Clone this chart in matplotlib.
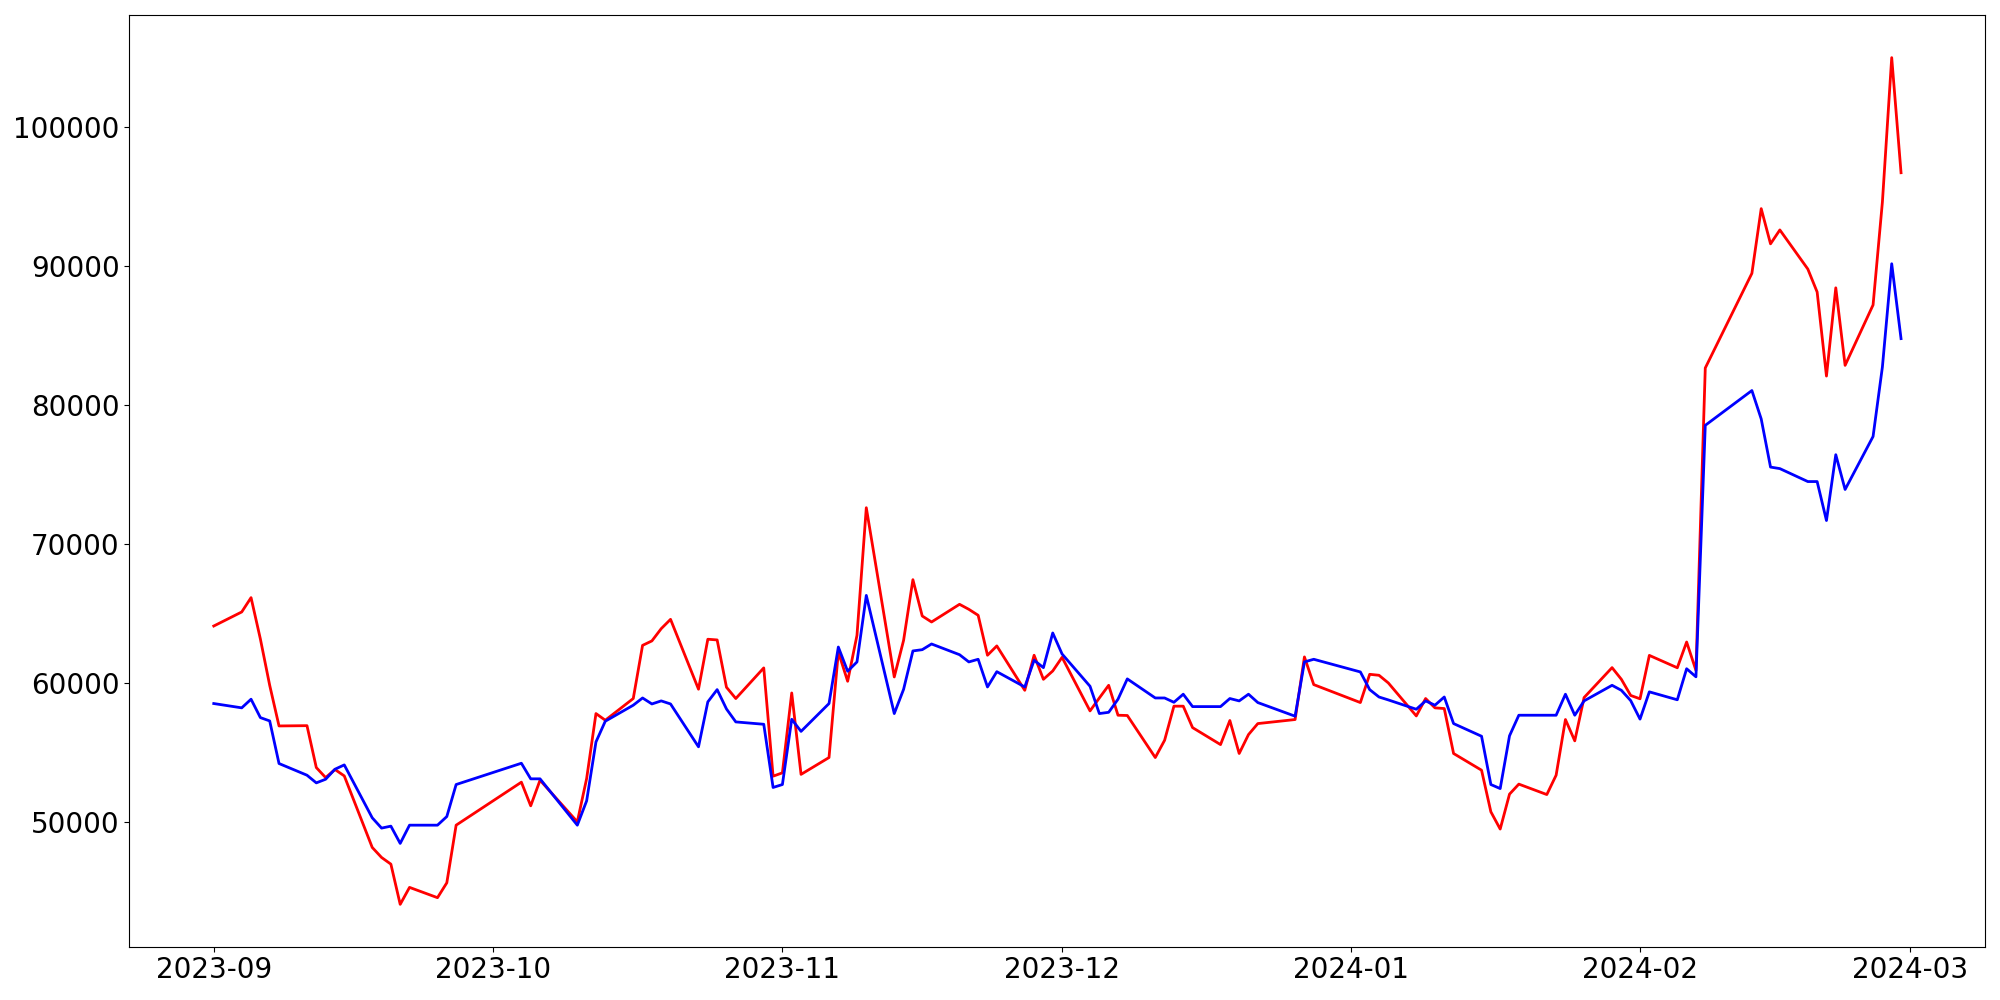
import matplotlib
matplotlib.use("Agg")
import matplotlib.pyplot as plt
import matplotlib.dates as mdates
import pandas as pd

dates = [
    "2023-09-01", "2023-09-04", "2023-09-05", "2023-09-06", "2023-09-07", "2023-09-08",
    "2023-09-11", "2023-09-12", "2023-09-13", "2023-09-14", "2023-09-15",
    "2023-09-18", "2023-09-19", "2023-09-20", "2023-09-21", "2023-09-22",
    "2023-09-25", "2023-09-26", "2023-09-27",
    "2023-10-04", "2023-10-05", "2023-10-06",
    "2023-10-10", "2023-10-11", "2023-10-12", "2023-10-13",
    "2023-10-16", "2023-10-17", "2023-10-18", "2023-10-19", "2023-10-20",
    "2023-10-23", "2023-10-24", "2023-10-25", "2023-10-26", "2023-10-27",
    "2023-10-30", "2023-10-31", "2023-11-01", "2023-11-02", "2023-11-03",
    "2023-11-06", "2023-11-07", "2023-11-08", "2023-11-09", "2023-11-10",
    "2023-11-13", "2023-11-14", "2023-11-15", "2023-11-16", "2023-11-17",
    "2023-11-20", "2023-11-21", "2023-11-22", "2023-11-23", "2023-11-24",
    "2023-11-27", "2023-11-28", "2023-11-29", "2023-11-30", "2023-12-01",
    "2023-12-04", "2023-12-05", "2023-12-06", "2023-12-07", "2023-12-08",
    "2023-12-11", "2023-12-12", "2023-12-13", "2023-12-14", "2023-12-15",
    "2023-12-18", "2023-12-19", "2023-12-20", "2023-12-21", "2023-12-22",
    "2023-12-26", "2023-12-27", "2023-12-28",
    "2024-01-02", "2024-01-03", "2024-01-04", "2024-01-05",
    "2024-01-08", "2024-01-09", "2024-01-10", "2024-01-11", "2024-01-12",
    "2024-01-15", "2024-01-16", "2024-01-17", "2024-01-18", "2024-01-19",
    "2024-01-22", "2024-01-23", "2024-01-24", "2024-01-25", "2024-01-26",
    "2024-01-29", "2024-01-30", "2024-01-31", "2024-02-01", "2024-02-02",
    "2024-02-05", "2024-02-06", "2024-02-07", "2024-02-08",
    "2024-02-13", "2024-02-14", "2024-02-15", "2024-02-16",
    "2024-02-19", "2024-02-20", "2024-02-21", "2024-02-22", "2024-02-23",
    "2024-02-26", "2024-02-27", "2024-02-28", "2024-02-29",
]

red_values = [
    64110, 65120, 66150, 63180, 59850, 56930,
    56950, 53940, 53220, 53800, 53340,
    48200, 47480, 47000, 44110, 45330,
    44590, 45660, 49800,
    52890, 51190, 53030,
    50040, 53150, 57820, 57340,
    58900, 62720, 63040, 63920, 64590,
    59570, 63160, 63110, 59710, 58900,
    61100, 53320, 53560, 59300, 53450,
    54660, 62240, 60140, 63440, 72610,
    60450, 63080, 67440, 64830, 64400,
    65670, 65310, 64880, 62010, 62680,
    59490, 62010, 60280, 60880, 61860,
    58010, 58940, 59850, 57700, 57680,
    54660, 55900, 58350, 58350, 56810,
    55590, 57320, 54950, 56310, 57100,
    57390, 61890, 59900,
    58610, 60640, 60570, 60020,
    57650, 58900, 58230, 58180, 54950,
    53750, 50760, 49520, 52030, 52750,
    52000, 53390, 57390, 55860, 58970,
    61120, 60280, 59120, 58880, 62000,
    61110, 62960, 60920, 82650,
    89450, 94100, 91570, 92570,
    89760, 88110, 82070, 88410, 82840,
    87180, 94570, 104950, 96680,
]

blue_values = [
    58540, 58230, 58850, 57530, 57290, 54230,
    53390, 52840, 53100, 53820, 54130,
    50330, 49590, 49730, 48490, 49800,
    49800, 50420, 52720,
    54250, 53130, 53130,
    49800, 51550, 55780, 57270,
    58420, 58940, 58510, 58730, 58510,
    55430, 58660, 59540, 58150, 57220,
    57050, 52510, 52720, 57410, 56540,
    58540, 62600, 60860, 61530, 66310,
    57820, 59560, 62320, 62410, 62820,
    62050, 61530, 61720, 59730, 60830,
    59730, 61650, 61120, 63610, 62100,
    59780, 57820, 57910, 58850, 60310,
    58940, 58940, 58630, 59210, 58320,
    58320, 58900, 58730, 59210, 58610,
    57630, 61530, 61720,
    60810, 59540, 59010, 58800,
    58130, 58730, 58420, 59010, 57100,
    56190, 52720, 52430, 56220, 57700,
    57700, 57700, 59210, 57700, 58730,
    59850, 59490, 58750, 57420, 59380,
    58810, 61040, 60460, 78530,
    81030, 78990, 75530, 75420,
    74490, 74490, 71690, 76420, 73920,
    77730, 82720, 90140, 84760,
]

x = pd.to_datetime(dates)

fig = plt.figure(figsize=(20, 10), dpi=100)
ax = fig.add_axes([0.0647, 0.0533, 0.928, 0.9314])
ax.plot(x, red_values, color="red", linewidth=2)
ax.plot(x, blue_values, color="blue", linewidth=2)

ax.xaxis.set_major_locator(mdates.MonthLocator())
ax.xaxis.set_major_formatter(mdates.DateFormatter("%Y-%m"))
ax.tick_params(axis="both", labelsize=20)

fig.savefig("out.png", dpi=100)
